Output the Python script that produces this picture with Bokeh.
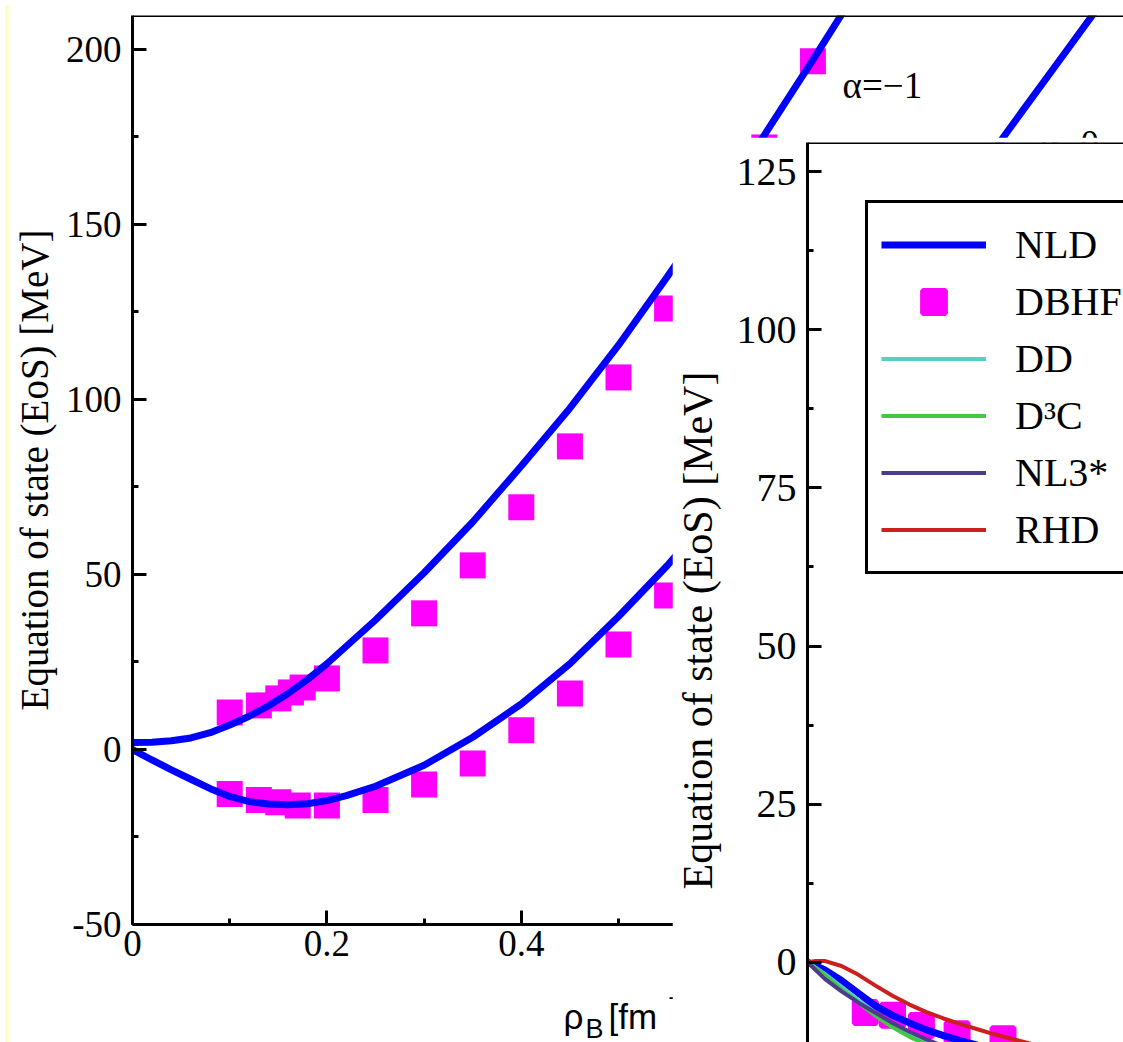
import math
from bokeh.plotting import figure
from bokeh.models import Range1d, FixedTicker, Span, Label, Legend, LegendItem, Div
from bokeh.core.properties import value
from bokeh.embed import file_html
from bokeh.resources import INLINE

# ---------------- data : main panel ----------------
rho_sym = [0, 0.02, 0.04, 0.06, 0.08, 0.1, 0.12, 0.14, 0.16, 0.18, 0.2, 0.22, 0.25, 0.3,
           0.35, 0.4, 0.45, 0.5, 0.55, 0.6, 0.65, 0.7, 0.75, 0.8, 0.85, 0.9, 0.95, 1.0]
eos_sym_nld = [0, -3.0, -5.8, -8.5, -11.2, -13.4, -14.9, -15.6, -15.8, -15.5, -14.6, -13.2, -10.5, -4.5,
               3.5, 13.0, 24.5, 38.0, 52.5, 68.5, 84.5, 101.5, 119.5, 138.0, 157.0, 176.5, 195.5, 214.5]
rho_neu = [0, 0.02, 0.04, 0.06, 0.08, 0.1, 0.12, 0.14, 0.16, 0.18, 0.2, 0.25, 0.3, 0.35,
           0.4, 0.45, 0.5, 0.55, 0.6, 0.65, 0.7, 0.75]
eos_neu_nld = [2.0, 2.1, 2.5, 3.3, 4.8, 7.0, 9.5, 12.5, 16.0, 20.0, 24.5, 37.0, 50.5, 65.0,
               81.0, 97.5, 115.5, 135.0, 155.0, 175.5, 197.0, 219.0]
dbhf_neu_rho = [0.1, 0.13, 0.15, 0.163, 0.175, 0.2, 0.25, 0.3, 0.35, 0.4, 0.45, 0.5, 0.55, 0.6, 0.65, 0.7]
dbhf_neu_eos = [10.6, 12.6, 14.6, 16.3, 17.7, 20.3, 28.3, 38.9, 52.6, 69.2, 86.6, 106.3, 126.0, 148.0, 172.0, 196.6]
dbhf_sym_rho = [0.1, 0.13, 0.15, 0.17, 0.2, 0.25, 0.3, 0.35, 0.4, 0.45, 0.5, 0.55]
dbhf_sym_eos = [-12.7, -14.4, -15.1, -16.0, -16.0, -14.4, -10.0, -4.0, 5.5, 16.0, 30.0, 44.0]

main_yticks = [-50, 0, 50, 100, 150, 200]
main_yminor = [-25, 25, 75, 125, 175]
main_ylabels = ["-50", "0", "50", "100", "150", "200"]
main_xticks = [0, 0.2, 0.4, 0.6, 0.8, 1.0]
main_xminor = [0.1, 0.3, 0.5, 0.7, 0.9]
main_xlabels = ["0", "0.2", "0.4", "0.6", "0.8", "1"]
curve_labels = ["\u03b1=\u22121", "\u03b1=0"]
curve_label_pos = [(0.7305, 189.7), (0.934, 173.0)]
ylabel_text = "Equation of state (EoS) [MeV]"

# ---------------- data : inset panel ----------------
in_rho_nld = [0, 0.01, 0.02, 0.03, 0.04, 0.05, 0.06, 0.07, 0.08, 0.09, 0.1, 0.12, 0.14, 0.16, 0.18]
in_eos_nld = [0, -1.2, -2.9, -4.9, -6.9, -8.4, -9.6, -10.7, -11.6, -12.4, -13.1, -14.3, -15.1, -15.5, -15.6]
in_rho_dbhf = [0.034, 0.05, 0.067, 0.088, 0.115]
in_eos_dbhf = [-7.95, -8.4, -10.0, -11.3, -12.1]
in_rho_dd = [0, 0.01, 0.02, 0.03, 0.04, 0.05, 0.06, 0.07, 0.08, 0.1, 0.12]
in_eos_dd = [0, -1.8, -3.9, -6.0, -8.0, -9.9, -11.4, -12.7, -13.8, -15.2, -15.9]
in_rho_d3c = [0, 0.01, 0.02, 0.03, 0.04, 0.05, 0.06, 0.07, 0.08, 0.1, 0.12]
in_eos_d3c = [0, -2.0, -4.3, -6.4, -8.5, -10.3, -11.8, -13.0, -14.0, -15.4, -16.0]
in_rho_nl3 = [0, 0.01, 0.02, 0.03, 0.04, 0.05, 0.06, 0.07, 0.08, 0.09, 0.1, 0.12]
in_eos_nl3 = [0, -2.6, -4.6, -6.4, -8.0, -9.6, -11.0, -12.2, -13.3, -14.2, -14.9, -15.9]
in_rho_rhd = [0, 0.005, 0.01, 0.02, 0.03, 0.04, 0.05, 0.06, 0.07, 0.08, 0.09, 0.1, 0.11, 0.12,
              0.13, 0.14, 0.16, 0.18]
in_eos_rhd = [0, 0.2, 0.2, -0.6, -2.0, -3.7, -5.3, -6.7, -7.9, -8.9, -9.8, -10.6, -11.4, -12.1,
              -12.8, -13.4, -14.4, -15.1]
inset_yticks = [0, 25, 50, 75, 100, 125]
inset_yminor = [12.5, 37.5, 62.5, 87.5, 112.5]
legend_names = ["NLD", "DBHF", "DD", "D\u00b3C", "NL3*", "RHD"]

BLUE = "#0000FF"
MAGENTA = "#FF00FF"
SERIF = "Liberation Serif"
SANS = "Liberation Sans"


def style_axis(ax, size):
    ax.axis_line_width = 3
    ax.axis_line_color = "black"
    ax.major_tick_line_width = 3
    ax.minor_tick_line_width = 3
    ax.major_tick_in = 14
    ax.major_tick_out = 0
    ax.minor_tick_in = 6
    ax.minor_tick_out = 0
    ax.major_label_text_font = SERIF
    ax.major_label_text_font_size = size
    ax.major_label_text_color = "black"


def overlay(w, h, left, top):
    f = figure(width=w, height=h, output_backend="svg", toolbar_location=None, title=None,
               x_range=Range1d(0, w), y_range=Range1d(0, h),
               x_axis_location=None, y_axis_location=None,
               min_border_left=0, min_border_right=0, min_border_top=0, min_border_bottom=0,
               styles={"position": "absolute", "left": f"{left}px", "top": f"{top}px"})
    f.outline_line_color = None
    f.background_fill_alpha = 0
    f.border_fill_alpha = 0
    f.xgrid.visible = False
    f.ygrid.visible = False
    return f


# ---------------- main figure ----------------
p1 = figure(width=1114, height=1039, output_backend="svg", toolbar_location=None,
            title=None, x_range=Range1d(0, 991 / 972), y_range=Range1d(-50, 209.7),
            min_border_left=123, min_border_right=0, min_border_top=12, min_border_bottom=118,
            styles={"position": "absolute", "left": "9px", "top": "3px"})
p1.outline_line_color = None
p1.background_fill_color = "white"
p1.border_fill_color = "white"
p1.xgrid.visible = False
p1.ygrid.visible = False
p1.yaxis.ticker = FixedTicker(ticks=main_yticks, minor_ticks=main_yminor)
p1.xaxis.ticker = FixedTicker(ticks=main_xticks, minor_ticks=main_xminor)
p1.yaxis.major_label_overrides = dict(zip(main_yticks, main_ylabels))
p1.xaxis.major_label_overrides = dict(zip(main_xticks, main_xlabels))
style_axis(p1.yaxis[0], "37px")
style_axis(p1.xaxis[0], "37px")
p1.yaxis.major_label_standoff = 11
p1.xaxis.major_label_standoff = 6
p1.yaxis.axis_label = ylabel_text
p1.yaxis.axis_label_text_font = SERIF
p1.yaxis.axis_label_text_font_size = "39px"
p1.yaxis.axis_label_text_font_style = "normal"
p1.yaxis.axis_label_text_color = "black"
p1.yaxis.axis_label_standoff = 7
p1.add_layout(Span(location=209.7, dimension="width", line_color="black", line_width=3))

p1.scatter(dbhf_neu_rho, dbhf_neu_eos, marker="square", size=26, fill_color=MAGENTA, line_color=None)
p1.scatter(dbhf_sym_rho, dbhf_sym_eos, marker="square", size=26, fill_color=MAGENTA, line_color=None)
p1.line(rho_neu, eos_neu_nld, line_color=BLUE, line_width=7)
p1.line(rho_sym, eos_sym_nld, line_color=BLUE, line_width=7)

for txt, (lx, ly) in zip(curve_labels, curve_label_pos):
    p1.add_layout(Label(x=lx, y=ly, text=txt, text_font=SERIF, text_font_size="37px",
                        text_baseline="middle", text_align="left", text_color="black"))

# ---------------- x-axis title of main panel (rho_B [fm^-3]) ----------------
p3 = overlay(200, 67, 550, 975)
p3.text(x=[13, 58, 142], y=[26, 26, 26], text=["\u03c1", "[fm", "]"], text_font=value(SANS),
        text_font_size=value("35px"), text_baseline="alphabetic", text_align="left", text_color="black")
p3.text(x=[35], y=[14], text=["B"], text_font=value(SANS),
        text_font_size=value("27px"), text_baseline="alphabetic", text_align="left", text_color="black")
p3.text(x=[118], y=[46], text=["-3"], text_font=value(SANS),
        text_font_size=value("22px"), text_baseline="alphabetic", text_align="left", text_color="black")

# ---------------- inset figure ----------------
p2 = figure(width=451, height=905, output_backend="svg", toolbar_location=None, title=None,
            x_range=Range1d(0, 316 / 1700), y_range=Range1d(-80.3 / 6.324, 819.7 / 6.324),
            x_axis_location=None,
            min_border_left=135, min_border_right=0, min_border_top=5, min_border_bottom=0,
            styles={"position": "absolute", "left": "672px", "top": "137px"})
p2.outline_line_color = None
p2.background_fill_color = "white"
p2.border_fill_color = "white"
p2.xgrid.visible = False
p2.ygrid.visible = False
p2.yaxis.ticker = FixedTicker(ticks=inset_yticks, minor_ticks=inset_yminor)
style_axis(p2.yaxis[0], "40px")
p2.yaxis.major_label_standoff = 11
p2.add_layout(Span(location=819.7 / 6.324, dimension="width", line_color="black", line_width=3))

r_dbhf = p2.scatter(in_rho_dbhf, in_eos_dbhf, marker="square", size=22, fill_color=MAGENTA,
                    line_color=MAGENTA, line_width=5)
r_nld = p2.line(in_rho_nld, in_eos_nld, line_color=BLUE, line_width=7)
r_dd = p2.line(in_rho_dd, in_eos_dd, line_color="#55D0C4", line_width=4)
r_d3c = p2.line(in_rho_d3c, in_eos_d3c, line_color="#44C844", line_width=4)
r_nl3 = p2.line(in_rho_nl3, in_eos_nl3, line_color="#4B3C8C", line_width=4)
r_rhd = p2.line(in_rho_rhd, in_eos_rhd, line_color="#CC2020", line_width=4)

legend = Legend(items=[LegendItem(label=n, renderers=[r]) for n, r in
                       zip(legend_names, [r_nld, r_dbhf, r_dd, r_d3c, r_nl3, r_rhd])],
                location="top_left", margin=58, padding=13, spacing=0,
                glyph_width=105, glyph_height=57, label_height=57, label_standoff=29,
                label_text_font=SERIF, label_text_font_size="40px", label_text_color="black",
                border_line_color="black", border_line_width=3, border_line_alpha=1.0,
                background_fill_color="white", background_fill_alpha=1.0)
p2.add_layout(legend)

# ---------------- y-axis title of inset ----------------
p4 = overlay(50, 600, 672, 330)
p4.text(x=[25], y=[300], text=[ylabel_text], angle=math.pi / 2, text_font=value(SERIF),
        text_font_size=value("42px"), text_align="center", text_baseline="middle", text_color="black")

bg = Div(width=1123, height=1042,
         styles={"position": "absolute", "left": "0px", "top": "0px", "background-color": "#FFFFCC"})

open("out.html", "w").write(file_html([bg, p1, p3, p2, p4], INLINE, title="EoS"))
